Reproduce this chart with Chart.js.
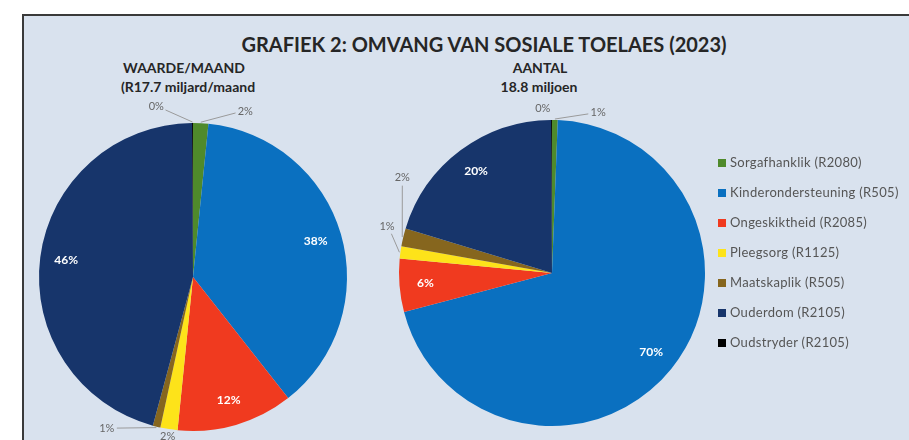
<!DOCTYPE html>
<html>
<head>
<meta charset="utf-8">
<script src="https://cdn.jsdelivr.net/npm/chart.js@4.4.1/dist/chart.umd.min.js"></script>
<style>
  html, body { margin:0; padding:0; background:#ffffff; width:909px; height:440px; overflow:hidden; }
  #panel { position:absolute; left:22px; top:14px; width:900px; height:440px; background:#d9e2ee;
           border-left:2px solid #3a3a3a; border-top:2px solid #3a3a3a; }
  .t { position:absolute; font-family:Lato, "Open Sans", sans-serif; font-weight:bold; color:#262626; white-space:nowrap; transform:translateX(-50%); }
  #title { left:484px; top:32px; font-size:20px; }
  .sub { font-size:14px; }
  canvas { position:absolute; }
  #legend { position:absolute; left:718px; top:154px; font-family:Lato, "Open Sans", sans-serif; font-size:13px; letter-spacing:0.3px; color:#555555; }
  #legend div { height:30px; line-height:16px; white-space:nowrap; }
  #legend span { display:inline-block; width:8px; height:8px; margin-right:4px; vertical-align:middle; position:relative; top:-1px; }
</style>
</head>
<body>
<div id="panel"></div>
<div class="t" id="title">GRAFIEK 2: OMVANG VAN SOSIALE TOELAES (2023)</div>
<div class="t sub" style="left:184px; top:59px;">WAARDE/MAAND</div>
<div class="t sub" style="left:188px; top:78px;">(R17.7 miljard/maand</div>
<div class="t sub" style="left:540px; top:59px;">AANTAL</div>
<div class="t sub" style="left:539px; top:78px;">18.8 miljoen</div>
<canvas id="c1" width="380" height="380" style="left:3px; top:87px;"></canvas>
<canvas id="c2" width="380" height="380" style="left:362px; top:83px;"></canvas>
<div id="legend"></div>
<script>
// ---- data ----
const categories = ['Sorgafhanklik (R2080)', 'Kinderondersteuning (R505)', 'Ongeskiktheid (R2085)',
                    'Pleegsorg (R1125)', 'Maatskaplik (R505)', 'Ouderdom (R2105)', 'Oudstryder (R2105)'];
const waardePct = [1.6, 37.8, 12.2, 1.8, 0.8, 45.7, 0.1];   // % of value per month
const aantalPct = [0.6, 70.3, 5.6, 1.3, 1.9, 20.2, 0.1];    // % of number of grants

// ---- styles ----
const sliceColors = ['#4f8a2b', '#0a70c0', '#f03a1f', '#fde31a', '#86661e', '#17356b', '#000000'];

const pctLabels = {
  id: 'pctLabels',
  afterDatasetsDraw(chart, args, opts) {
    const ctx = chart.ctx;
    const meta = chart.getDatasetMeta(0);
    const data = chart.data.datasets[0].data;
    const total = data.reduce((a, b) => a + b, 0);
    ctx.save();
    ctx.textAlign = 'center';
    ctx.textBaseline = 'middle';
    meta.data.forEach((arc, i) => {
      const p = arc.getProps(['x', 'y', 'startAngle', 'endAngle', 'outerRadius'], true);
      const txt = Math.round(data[i] / total * 100) + '%';
      const mid = (p.startAngle + p.endAngle) / 2;
      const o = opts.outside[i];
      if (!o) {
        const r = p.outerRadius * opts.insideR;
        ctx.fillStyle = '#ffffff';
        ctx.font = 'bold 12px Lato, "Open Sans", sans-serif';
        ctx.fillText(txt, p.x + Math.cos(mid) * r, p.y + Math.sin(mid) * r);
      } else {
        const a = mid + o.nudge * Math.PI / 180;
        const r = p.outerRadius * o.r;
        const lx = p.x + Math.cos(a) * r, ly = p.y + Math.sin(a) * r;
        ctx.fillStyle = '#666666';
        ctx.font = '11px Lato, "Open Sans", sans-serif';
        ctx.fillText(txt, lx, ly);
        if (o.line) {
          const ex = p.x + Math.cos(mid) * (p.outerRadius + 1);
          const ey = p.y + Math.sin(mid) * (p.outerRadius + 1);
          const dx = ex - lx, dy = ey - ly, d = Math.hypot(dx, dy);
          ctx.strokeStyle = '#9a9a9a';
          ctx.lineWidth = 1;
          ctx.beginPath();
          ctx.moveTo(lx + dx / d * 10, ly + dy / d * 8);
          ctx.lineTo(ex, ey);
          ctx.stroke();
        }
      }
    });
    ctx.restore();
  }
};

function makePie(id, values, pad, outside) {
  return new Chart(document.getElementById(id), {
    type: 'pie',
    data: { labels: categories, datasets: [{ data: values, backgroundColor: sliceColors, borderWidth: 0 }] },
    options: {
      responsive: false, animation: false, devicePixelRatio: 1,
      layout: { padding: pad },
      plugins: { legend: { display: false }, tooltip: { enabled: false }, pctLabels: { insideR: 0.83, outside } }
    },
    plugins: [pctLabels]
  });
}

makePie('c1', waardePct, 36, {
  0: { nudge: 14.6, r: 1.13, line: true },
  3: { nudge: 0, r: 1.05, line: false },
  4: { nudge: 16, r: 1.13, line: true },
  6: { nudge: -12, r: 1.13, line: true }
});
makePie('c2', aantalPct, 37, {
  0: { nudge: 15, r: 1.09, line: true },
  3: { nudge: 8, r: 1.12, line: true },
  4: { nudge: 19, r: 1.16, line: true },
  6: { nudge: -3, r: 1.08, line: false }
});

// legend built from the same category list
const lg = document.getElementById('legend');
categories.forEach((c, i) => {
  const d = document.createElement('div');
  const s = document.createElement('span');
  s.style.background = sliceColors[i];
  d.appendChild(s);
  d.appendChild(document.createTextNode(c));
  lg.appendChild(d);
});
</script>
</body>
</html>
